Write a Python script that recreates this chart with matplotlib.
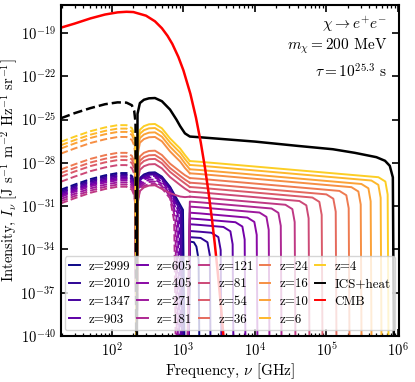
import numpy as np
import matplotlib
matplotlib.use("Agg")
import matplotlib.pyplot as plt
from matplotlib.lines import Line2D
from matplotlib.ticker import FixedLocator, NullLocator, LogLocator, NullFormatter

plt.rcParams.update({
    "font.family": "serif",
    "font.serif": ["cmr10"],
    "mathtext.fontset": "cm",
    "axes.formatter.use_mathtext": True,
})

# redshifts, in legend order
z_vals = [2999, 2010, 1347, 903, 605, 405, 271, 181, 121, 81, 54, 36, 24, 16, 10, 6, 4]
# curves drawn dashed in the 220-1000 GHz hump
dashed_hump = [903, 605, 405, 271, 181]

# low frequency (negative, dashed) part, log10 intensity
nu_lo = [19.4, 30, 50, 80, 120, 160, 190, 205, 214, 220]
lo_vals = [
    [-29.85, -29.5, -29.12, -28.86, -28.7, -28.7, -28.9, -29.3, -30.1, -45],
    [-29.95, -29.6, -29.22, -28.96, -28.8, -28.8, -29.0, -29.4, -30.2, -45],
    [-30.05, -29.7, -29.32, -29.06, -28.9, -28.9, -29.1, -29.5, -30.3, -45],
    [-30.15, -29.8, -29.42, -29.16, -29.0, -29.0, -29.2, -29.6, -30.4, -45],
    [-30.25, -29.9, -29.52, -29.26, -29.1, -29.1, -29.3, -29.7, -30.5, -45],
    [-30.35, -30.0, -29.62, -29.36, -29.2, -29.2, -29.4, -29.8, -30.6, -45],
    [-30.5, -30.15, -29.77, -29.51, -29.35, -29.35, -29.55, -29.95, -30.75, -45],
    [-30.65, -30.3, -29.92, -29.66, -29.5, -29.5, -29.7, -30.1, -30.9, -45],
    [-30.8, -30.45, -30.07, -29.81, -29.65, -29.65, -29.85, -30.25, -31.05, -45],
    [-29.3, -28.95, -28.57, -28.31, -28.15, -28.15, -28.35, -28.75, -29.55, -45],
    [-28.95, -28.6, -28.22, -27.96, -27.8, -27.8, -28.0, -28.4, -29.2, -45],
    [-28.7, -28.35, -27.97, -27.71, -27.55, -27.55, -27.75, -28.15, -28.95, -45],
    [-28.45, -28.1, -27.72, -27.46, -27.3, -27.3, -27.5, -27.9, -28.7, -45],
    [-27.35, -27.0, -26.62, -26.36, -26.2, -26.2, -26.4, -26.8, -27.6, -45],
    [-27.0, -26.65, -26.27, -26.01, -25.85, -25.85, -26.05, -26.45, -27.25, -45],
    [-26.77, -26.42, -26.04, -25.78, -25.62, -25.62, -25.82, -26.22, -27.02, -45],
    [-26.53, -26.18, -25.8, -25.54, -25.38, -25.38, -25.58, -25.98, -26.78, -45],
]

# hump above the 217 GHz null
hump_nu = [
    [222, 228, 246, 280, 330, 400, 500, 650, 986, 1060],
    [222, 228, 246, 280, 330, 400, 500, 650, 949, 1020],
    [222, 228, 246, 280, 330, 400, 500, 650, 911, 980],
    [222, 228, 246, 280, 330, 400, 500, 650, 874, 940],
    [222, 228, 246, 280, 330, 400, 500, 650, 837, 900],
    [222, 228, 246, 280, 330, 400, 500, 650, 800, 860],
    [222, 228, 246, 280, 330, 400, 500, 650, 772, 830],
    [222, 228, 246, 280, 330, 400, 500, 650, 744, 800],
] + [[222, 228, 246, 280, 330, 400, 500, 650, 800, 900, 1050, 1230]] * 9
hump_vals = [
    [-45, -29.95, -29.05, -28.8, -28.67, -28.65, -28.95, -29.65, -31.25, -45],
    [-45, -30.0, -29.1, -28.85, -28.72, -28.7, -29.0, -29.7, -31.3, -45],
    [-45, -30.1, -29.2, -28.95, -28.82, -28.8, -29.1, -29.8, -31.4, -45],
    [-45, -30.2, -29.3, -29.05, -28.92, -28.9, -29.2, -29.9, -31.5, -45],
    [-45, -30.3, -29.4, -29.15, -29.02, -29.0, -29.3, -30.0, -31.6, -45],
    [-45, -30.45, -29.55, -29.3, -29.17, -29.15, -29.45, -30.15, -31.75, -45],
    [-45, -30.6, -29.7, -29.45, -29.32, -29.3, -29.6, -30.3, -31.9, -45],
    [-45, -30.75, -29.85, -29.6, -29.47, -29.45, -29.75, -30.45, -32.05, -45],
    [-45, -30.85, -29.95, -29.7, -29.57, -29.55, -29.8, -30.1, -30.25, -30.33, -30.37, -30.34],
    [-45, -29.38, -28.48, -28.23, -28.1, -28.08, -28.38, -28.98, -29.33, -29.53, -29.78, -29.99],
    [-45, -29.02, -28.12, -27.87, -27.74, -27.72, -28.02, -28.62, -28.97, -29.17, -29.42, -29.67],
    [-45, -28.75, -27.85, -27.6, -27.47, -27.45, -27.75, -28.35, -28.7, -28.9, -29.15, -29.37],
    [-45, -28.45, -27.55, -27.3, -27.17, -27.15, -27.45, -28.05, -28.4, -28.6, -28.85, -29.05],
    [-45, -27.5, -26.6, -26.35, -26.22, -26.2, -26.5, -27.2, -27.65, -27.9, -28.35, -28.72],
    [-45, -27.18, -26.28, -26.03, -25.9, -25.88, -26.18, -26.88, -27.33, -27.58, -28.03, -28.44],
    [-45, -26.88, -25.98, -25.73, -25.6, -25.58, -25.88, -26.58, -27.03, -27.28, -27.73, -28.14],
    [-45, -26.6, -25.7, -25.45, -25.32, -25.3, -25.6, -26.3, -26.75, -27.0, -27.45, -27.87],
]

# high frequency plateau and cutoff
tail_nu = [
    [1170, 1230, 1400, 1520, 1630, 1700],
    [1160, 1230, 1740, 2170, 2340, 2430],
    [1150, 1230, 1700, 2460, 3080, 3320, 3450],
    [1140, 1230, 1700, 3630, 4540, 4880, 5080],
    [1130, 1230, 1700, 5340, 6680, 7190, 7480],
    [1120, 1230, 1700, 7860, 9820, 10600, 11000],
    [1110, 1230, 1700, 11600, 14500, 15600, 16200],
    [1100, 1230, 1700, 17100, 21300, 23000, 23900],
    [1230, 1700, 26700, 33400, 36000, 37400],
    [1230, 1700, 41900, 52400, 56400, 58700],
    [1230, 1700, 63800, 79700, 85900, 89300],
    [1230, 1700, 100000, 125000, 135000, 140000],
    [1230, 1700, 152000, 190000, 205000, 213000],
    [1230, 1700, 224000, 280000, 302000, 314000],
    [1230, 1700, 309000, 387000, 416000, 433000],
    [1230, 1700, 426000, 533000, 574000, 597000],
    [1230, 1700, 534000, 668000, 719000, 748000],
]
tail_vals = [
    [-45, -33.45, -33.5, -33.8, -34.7, -45],
    [-45, -33.15, -33.2, -33.5, -34.4, -45],
    [-45, -32.72, -32.77, -32.84, -33.14, -34.04, -45],
    [-45, -32.25, -32.3, -32.44, -32.74, -33.64, -45],
    [-45, -31.85, -31.9, -32.11, -32.41, -33.31, -45],
    [-45, -31.45, -31.5, -31.79, -32.09, -32.99, -45],
    [-45, -31.03, -31.08, -31.44, -31.74, -32.64, -45],
    [-45, -30.68, -30.73, -31.16, -31.46, -32.36, -45],
    [-30.34, -30.39, -30.9, -31.2, -32.1, -45],
    [-29.99, -30.04, -30.64, -30.94, -31.84, -45],
    [-29.67, -29.72, -30.4, -30.7, -31.6, -45],
    [-29.37, -29.42, -30.18, -30.48, -31.38, -45],
    [-29.05, -29.1, -29.94, -30.24, -31.14, -45],
    [-28.72, -28.77, -29.68, -29.98, -30.88, -45],
    [-28.44, -28.49, -29.46, -29.76, -30.66, -45],
    [-28.14, -28.19, -29.22, -29.52, -30.42, -45],
    [-27.87, -27.92, -28.99, -29.29, -30.19, -45],
]

# ICS + heat total
ics_lo_vals = [-24.9, -24.55, -24.2, -23.93, -23.8, -23.82, -24.0, -24.4, -25.2, -45]
ics_hi_nu = [222, 228, 246, 280, 330, 400, 500, 650, 800, 900, 1050, 1230, 1700,
             1e4, 4e4, 1.23e5, 2.5e5, 5e5, 6.6e5, 7.7e5, 8.5e5, 8.9e5]
ics_hi_vals = [-45, -24.6, -23.85, -23.62, -23.52, -23.5, -23.72, -24.3, -25.0, -25.45,
               -25.95, -26.17, -26.22, -26.52, -26.82, -27.05, -27.3, -27.6, -27.85,
               -28.2, -29.0, -45]

# CMB
cmb_nu = [19.4, 30, 50, 80, 120, 160, 200, 300, 400, 500, 600, 700, 850, 1000, 1250,
          1500, 1750, 2000, 2250, 2500, 2750, 3000, 3250, 3500, 3800]
cmb_vals = [-18.62, -18.34, -17.98, -17.71, -17.56, -17.52, -17.54, -17.79, -18.18,
            -18.66, -19.19, -19.75, -20.65, -21.58, -23.2, -24.87, -26.59, -28.32,
            -30.07, -31.85, -33.63, -35.43, -37.24, -39.06, -41.25]

colors = plt.cm.plasma(np.linspace(0.0, 0.9, len(z_vals)))

fig = plt.figure(figsize=(4.15, 3.82), dpi=100)
ax = fig.add_axes([0.147, 0.1204, 0.814, 0.8665])

lw = 1.4
for k, z in enumerate(z_vals):
    c = colors[k]
    ax.plot(nu_lo, 10.0 ** np.array(lo_vals[k]), ls="--", color=c, lw=lw)
    ax.plot(hump_nu[k], 10.0 ** np.array(hump_vals[k]),
            ls="--" if z in dashed_hump else "-", color=c, lw=lw)
    ax.plot(tail_nu[k], 10.0 ** np.array(tail_vals[k]), ls="-", color=c, lw=lw)

ax.plot(nu_lo, 10.0 ** np.array(ics_lo_vals), ls="--", color="k", lw=1.8)
ax.plot(ics_hi_nu, 10.0 ** np.array(ics_hi_vals), ls="-", color="k", lw=1.8)
ax.plot(cmb_nu, 10.0 ** np.array(cmb_vals), ls="-", color="red", lw=1.8)

ax.set_xscale("log")
ax.set_yscale("log")
ax.set_xlim(19.4, 1.03e6)
ax.set_ylim(1e-40, 10 ** -17.05)

ax.yaxis.set_major_locator(FixedLocator([10.0 ** p for p in range(-40, -18, 3)]))
ax.yaxis.set_minor_locator(NullLocator())
ax.xaxis.set_major_locator(LogLocator(base=10))
ax.xaxis.set_minor_locator(LogLocator(base=10, subs=np.arange(2, 10)))
ax.xaxis.set_minor_formatter(NullFormatter())
ax.tick_params(which="both", direction="in", top=True, right=True, labelsize=10.5)
ax.tick_params(which="major", length=5, width=1.2, pad=4)
ax.tick_params(which="minor", length=2.5, width=0.9)
for s in ax.spines.values():
    s.set_linewidth(1.5)

ax.set_xlabel(r"Frequency, $\nu$ [GHz]", fontsize=11, labelpad=1)
ax.set_ylabel(r"Intensity, $I_\nu$ [J s$^{-1}$ m$^{-2}$ Hz$^{-1}$ sr$^{-1}$]",
              fontsize=10.5, labelpad=0)

ax.text(0.965, 0.94, r"$\chi \rightarrow e^{+}e^{-}$", transform=ax.transAxes,
        ha="right", va="center", fontsize=11)
ax.text(0.965, 0.876, r"$m_\chi = 200$ MeV", transform=ax.transAxes,
        ha="right", va="center", fontsize=11)
ax.text(0.965, 0.798, r"$\tau = 10^{25.3}$ s", transform=ax.transAxes,
        ha="right", va="center", fontsize=11)

handles = [Line2D([], [], color=colors[k], lw=lw) for k in range(len(z_vals))]
labels = ["z=%d" % z for z in z_vals]
handles += [Line2D([], [], color="k", lw=lw), Line2D([], [], color="red", lw=lw)]
labels += ["ICS+heat", "CMB"]
ax.legend(handles, labels, loc="lower center", ncol=5, fontsize=9.4,
          handlelength=0.8, handletextpad=0.7, columnspacing=0.5,
          labelspacing=0.42, borderaxespad=0.45, borderpad=0.35, framealpha=0.8)

fig.savefig("out.png", dpi=100)
